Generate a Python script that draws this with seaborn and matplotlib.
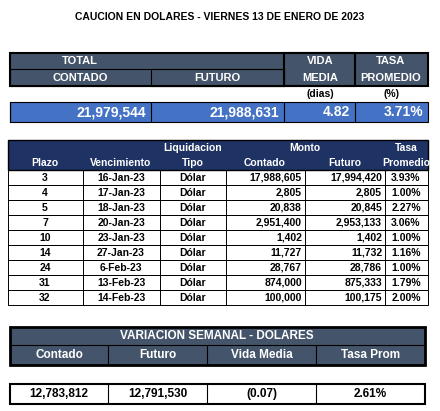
import matplotlib
matplotlib.use("Agg")
import matplotlib.pyplot as plt
from matplotlib.patches import Rectangle
import seaborn as sns

sns.set_theme(style="white")
plt.rcParams['font.family'] = ['Liberation Sans', 'DejaVu Sans']

title = "CAUCION EN DOLARES - VIERNES 13 DE ENERO DE 2023"
tot_values = ["21,979,544", "21,988,631", "4.82", "3.71%"]
plazo = [3, 4, 5, 7, 10, 14, 24, 31, 32]
venc = ["16-Jan-23", "17-Jan-23", "18-Jan-23", "20-Jan-23", "23-Jan-23", "27-Jan-23", "6-Feb-23", "13-Feb-23", "14-Feb-23"]
tipo = ["Dólar"] * 9
contado = [17988605, 2805, 20838, 2951400, 1402, 11727, 28767, 874000, 100000]
futuro = [17994420, 2805, 20845, 2953133, 1402, 11732, 28786, 875333, 100175]
tasa = [3.93, 1.00, 2.27, 3.06, 1.00, 1.16, 1.00, 1.79, 2.00]
var_labels = ["Contado", "Futuro", "Vida Media", "Tasa Prom"]
var_values = ["12,783,812", "12,791,530", "(0.07)", "2.61%"]

fig = plt.figure(figsize=(4.4, 4.11), dpi=100)
ax = fig.add_axes([0, 0, 1, 1])
ax.set_xlim(0, 440); ax.set_ylim(411, 0); ax.axis("off")

SLATE = "#44546A"; BLUE = "#4472C4"; NAVY = "#1F3264"
narrow = ['Liberation Sans Narrow', 'Liberation Sans', 'DejaVu Sans']

def rect(x0, y0, x1, y1, fc="none", ec="black", lw=0.8, z=1):
    ax.add_patch(Rectangle((x0, y0), x1 - x0, y1 - y0, facecolor=fc, edgecolor=ec, lw=lw, zorder=z))

def txt(x, y, s, ha="center", size=7.5, color="black", family=None, weight="bold"):
    ax.text(x, y, s, ha=ha, va="center", fontsize=size, color=color, weight=weight,
            family=family if family else plt.rcParams['font.family'], zorder=5)

txt(220, 17, title, size=7.5)

# Top table
cx = [10, 151, 284, 355, 428]
rect(10, 53, 428, 86, fc=SLATE, lw=1.5)
rect(10, 69, 284, 86, fc="none", lw=0.8)
rect(151, 69, 284, 86, fc="none", lw=0.8)
rect(284, 53, 355, 86, fc="none", lw=1.5)
txt(80, 61, "TOTAL", color="white", size=8)
txt(80, 78, "CONTADO", color="white", size=8)
txt(217, 78, "FUTURO", color="white", size=8)
txt(320, 61, "VIDA", color="white", size=8)
txt(320, 78, "MEDIA", color="white", size=8)
txt(391, 61, "TASA", color="white", size=8)
txt(391, 78, "PROMEDIO", color="white", size=8)
txt(320, 94, "(dias)", size=7.5)
txt(391, 94, "(%)", size=7.5)
rect(10, 102, 428, 122, fc=BLUE, lw=0.8)
for i in range(4):
    ax.plot([cx[i], cx[i]], [102, 122], color="black", lw=0.8, zorder=2)
    txt(cx[i + 1] - 5, 112, tot_values[i], ha="right", color="white", size=10)

# Middle table
mx = [8, 83, 160, 226, 305, 385, 428]
rect(8, 140, 428, 170, fc=NAVY, lw=1)
hy1, hy2 = 148, 163
txt(45, hy2, "Plazo", color="white", family=narrow)
txt(121, hy2, "Vencimiento", color="white", family=narrow)
txt(193, hy1, "Liquidacion", color="white", family=narrow)
txt(193, hy2, "Tipo", color="white", family=narrow)
txt(305, hy1, "Monto", color="white", family=narrow)
txt(265, hy2, "Contado", color="white", family=narrow)
txt(345, hy2, "Futuro", color="white", family=narrow)
txt(406, hy1, "Tasa", color="white", family=narrow)
txt(406, hy2, "Promedio", color="white", family=narrow)
rh = 15
for r in range(len(plazo)):
    y0 = 170 + r * rh
    rect(8, y0, 428, y0 + rh, lw=0.7)
    for x in mx[1:-1]:
        ax.plot([x, x], [y0, y0 + rh], color="black", lw=0.7, zorder=2)
    yc = y0 + rh / 2
    txt(45, yc, str(plazo[r]), family=narrow)
    txt(121, yc, venc[r], family=narrow)
    txt(193, yc, tipo[r], family=narrow)
    txt(mx[4] - 3, yc, f"{contado[r]:,}", ha="right", family=narrow)
    txt(mx[5] - 3, yc, f"{futuro[r]:,}", ha="right", family=narrow)
    txt(406, yc, f"{tasa[r]:.2f}%", family=narrow)

# Bottom table
bx = [10, 108, 207, 316, 425]
rect(10, 327, 425, 365, fc=SLATE, lw=2)
ax.plot([10, 425], [345, 345], color="black", lw=0.8, zorder=2)
txt(217, 336, "VARIACION SEMANAL - DOLARES", color="white", size=8.5)
for i in range(4):
    if i > 0:
        ax.plot([bx[i], bx[i]], [345, 365], color="black", lw=0.8, zorder=2)
    txt((bx[i] + bx[i + 1]) / 2, 355, var_labels[i], color="white", size=8.5)
rect(10, 384, 425, 404, lw=1.5)
for i in range(4):
    if i > 0:
        ax.plot([bx[i], bx[i]], [384, 404], color="black", lw=0.8, zorder=2)
    txt((bx[i] + bx[i + 1]) / 2, 394, var_values[i], size=8.5)

fig.savefig("out.png", dpi=100)
